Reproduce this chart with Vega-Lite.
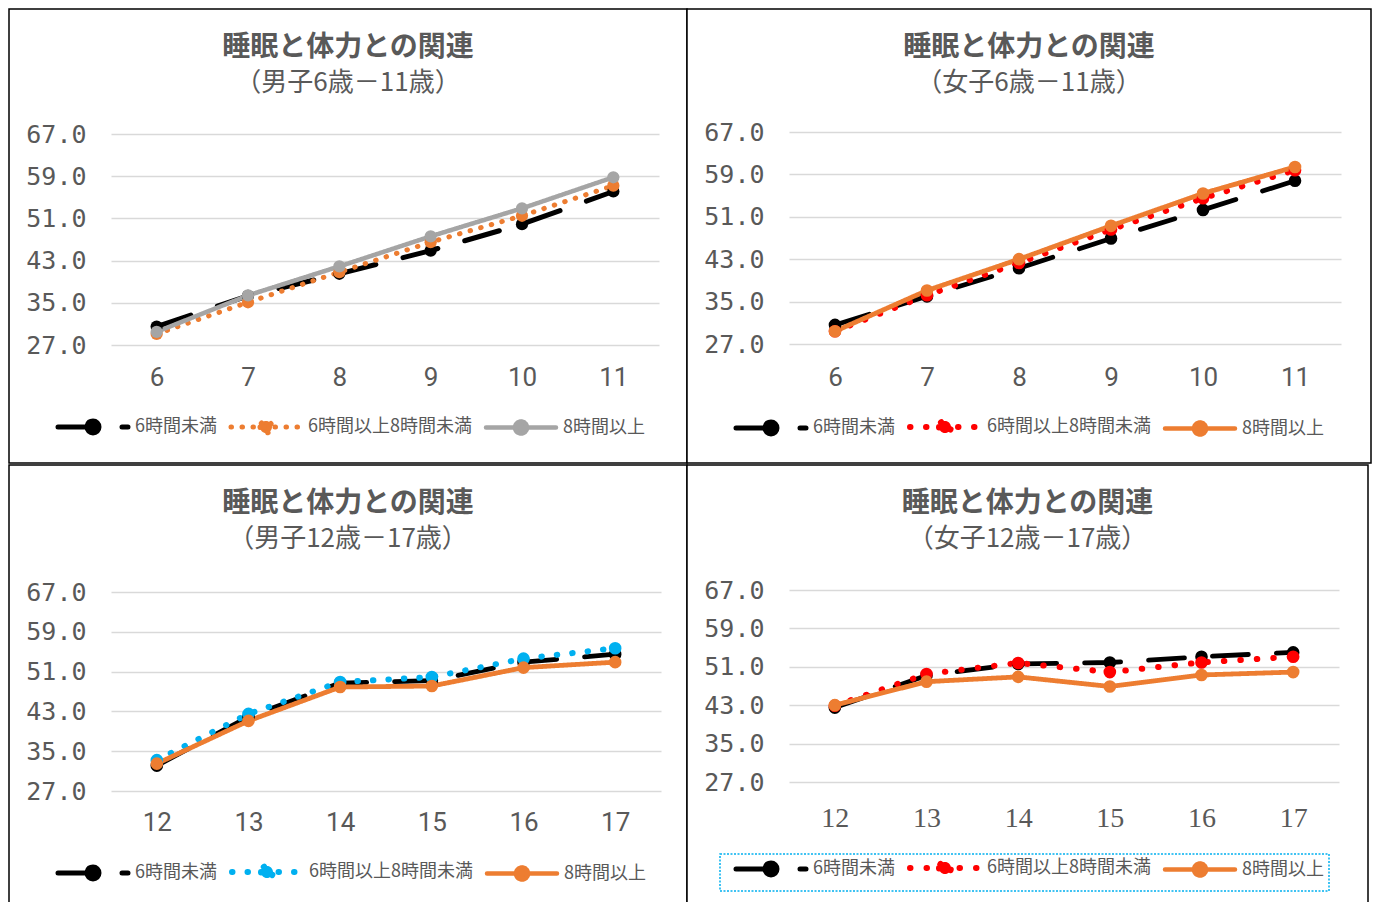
{
  "$schema": "https://vega.github.io/schema/vega-lite/v6.json",
  "padding": {"left": 8, "top": 8, "right": 0, "bottom": 0},
  "background": "#ffffff",
  "datasets": {
    "boys_6_11": [
      {"age": 6, "series": "6時間未満", "value": 30.5},
      {"age": 7, "series": "6時間未満", "value": 36.3},
      {"age": 8, "series": "6時間未満", "value": 40.5},
      {"age": 9, "series": "6時間未満", "value": 44.9},
      {"age": 10, "series": "6時間未満", "value": 49.9},
      {"age": 11, "series": "6時間未満", "value": 56.1},
      {"age": 6, "series": "6時間以上8時間未満", "value": 29.1},
      {"age": 7, "series": "6時間以上8時間未満", "value": 35.1},
      {"age": 8, "series": "6時間以上8時間未満", "value": 40.8},
      {"age": 9, "series": "6時間以上8時間未満", "value": 46.5},
      {"age": 10, "series": "6時間以上8時間未満", "value": 51.5},
      {"age": 11, "series": "6時間以上8時間未満", "value": 57.2},
      {"age": 6, "series": "8時間以上", "value": 29.5},
      {"age": 7, "series": "8時間以上", "value": 36.4},
      {"age": 8, "series": "8時間以上", "value": 41.9},
      {"age": 9, "series": "8時間以上", "value": 47.6},
      {"age": 10, "series": "8時間以上", "value": 52.9},
      {"age": 11, "series": "8時間以上", "value": 58.8}
    ],
    "girls_6_11": [
      {"age": 6, "series": "6時間未満", "value": 30.6},
      {"age": 7, "series": "6時間未満", "value": 36.0},
      {"age": 8, "series": "6時間未満", "value": 41.3},
      {"age": 9, "series": "6時間未満", "value": 46.9},
      {"age": 10, "series": "6時間未満", "value": 52.3},
      {"age": 11, "series": "6時間未満", "value": 57.8},
      {"age": 6, "series": "6時間以上8時間未満", "value": 29.4},
      {"age": 7, "series": "6時間以上8時間未満", "value": 36.2},
      {"age": 8, "series": "6時間以上8時間未満", "value": 42.3},
      {"age": 9, "series": "6時間以上8時間未満", "value": 48.6},
      {"age": 10, "series": "6時間以上8時間未満", "value": 54.5},
      {"age": 11, "series": "6時間以上8時間未満", "value": 59.8},
      {"age": 6, "series": "8時間以上", "value": 29.4},
      {"age": 7, "series": "8時間以上", "value": 37.1},
      {"age": 8, "series": "8時間以上", "value": 43.0},
      {"age": 9, "series": "8時間以上", "value": 49.3},
      {"age": 10, "series": "8時間以上", "value": 55.4},
      {"age": 11, "series": "8時間以上", "value": 60.4}
    ],
    "boys_12_17": [
      {"age": 12, "series": "6時間未満", "value": 32.1},
      {"age": 13, "series": "6時間未満", "value": 41.9},
      {"age": 14, "series": "6時間未満", "value": 48.7},
      {"age": 15, "series": "6時間未満", "value": 49.2},
      {"age": 16, "series": "6時間未満", "value": 52.9},
      {"age": 17, "series": "6時間未満", "value": 54.5},
      {"age": 12, "series": "6時間以上8時間未満", "value": 33.2},
      {"age": 13, "series": "6時間以上8時間未満", "value": 42.5},
      {"age": 14, "series": "6時間以上8時間未満", "value": 48.9},
      {"age": 15, "series": "6時間以上8時間未満", "value": 49.9},
      {"age": 16, "series": "6時間以上8時間未満", "value": 53.6},
      {"age": 17, "series": "6時間以上8時間未満", "value": 55.7},
      {"age": 12, "series": "8時間以上", "value": 32.5},
      {"age": 13, "series": "8時間以上", "value": 41.1},
      {"age": 14, "series": "8時間以上", "value": 47.9},
      {"age": 15, "series": "8時間以上", "value": 48.1},
      {"age": 16, "series": "8時間以上", "value": 51.8},
      {"age": 17, "series": "8時間以上", "value": 52.9}
    ],
    "girls_12_17": [
      {"age": 12, "series": "6時間未満", "value": 42.5},
      {"age": 13, "series": "6時間未満", "value": 49.2},
      {"age": 14, "series": "6時間未満", "value": 51.6},
      {"age": 15, "series": "6時間未満", "value": 51.9},
      {"age": 16, "series": "6時間未満", "value": 53.1},
      {"age": 17, "series": "6時間未満", "value": 54.0},
      {"age": 12, "series": "6時間以上8時間未満", "value": 42.9},
      {"age": 13, "series": "6時間以上8時間未満", "value": 49.5},
      {"age": 14, "series": "6時間以上8時間未満", "value": 51.8},
      {"age": 15, "series": "6時間以上8時間未満", "value": 49.9},
      {"age": 16, "series": "6時間以上8時間未満", "value": 51.9},
      {"age": 17, "series": "6時間以上8時間未満", "value": 53.1},
      {"age": 12, "series": "8時間以上", "value": 43.0},
      {"age": 13, "series": "8時間以上", "value": 47.9},
      {"age": 14, "series": "8時間以上", "value": 48.9},
      {"age": 15, "series": "8時間以上", "value": 46.9},
      {"age": 16, "series": "8時間以上", "value": 49.3},
      {"age": 17, "series": "8時間以上", "value": 49.9}
    ]
  },
  "spacing": 0,
  "resolve": {
    "scale": {"x": "independent", "y": "independent", "color": "independent", "strokeDash": "independent"},
    "legend": {"color": "independent"}
  },
  "vconcat": [
    {
      "spacing": 0,
      "bounds": "flush",
      "resolve": {
        "scale": {"x": "independent", "y": "independent", "color": "independent", "strokeDash": "independent"},
        "legend": {"color": "independent"}
      },
      "hconcat": [
        {
          "width": 678,
          "height": 454,
          "title": {"text": "睡眠と体力との関連", "subtitle": "（男子6歳－11歳）"},
          "data": {"name": "boys_6_11"},
          "encoding": {
            "x": {"field": "age", "type": "ordinal", "scale": {"type": "point", "range": [102, 650], "padding": 0.5}, "axis": {"title": null, "offset": -107}},
            "y": {"field": "value", "type": "quantitative", "scale": {"domain": [27, 67], "range": [336, 125], "nice": false, "zero": false}, "axis": {"title": null, "values": [27, 35, 43, 51, 59, 67], "format": ".1f"}}
          },
          "layer": [
            {
              "mark": {"type": "line", "strokeCap": "round", "strokeJoin": "round"},
              "encoding": {
                "color": {
                  "field": "series", "type": "nominal",
                  "scale": {"domain": ["6時間未満", "6時間以上8時間未満", "8時間以上"], "range": ["#000000", "#ED7D31", "#A5A5A5"]},
                  "legend": {
                    "legendX": 33, "legendY": 404,
                    "encode": {"symbols": {"update": {
                      "fill": {"signal": "datum.value === '6時間未満' ? '#000000' : datum.value === '8時間以上' ? '#A5A5A5' : '#ED7D31'"},
                      "stroke": {"signal": "datum.value === '6時間未満' ? '#000000' : datum.value === '8時間以上' ? '#A5A5A5' : '#ED7D31'"},
                      "strokeDash": {"signal": "datum.value === '6時間未満' ? [36, 28] : datum.value === '8時間以上' ? [1, 0] : [0.5, 10.5]"},
                      "strokeWidth": {"signal": "datum.value === '8時間以上' ? 4.5 : 5"},
                      "strokeCap": {"value": "round"}
                    }}}
                  }
                },
                "strokeDash": {
                  "field": "series", "type": "nominal", "legend": null,
                  "scale": {"domain": ["6時間未満", "6時間以上8時間未満", "8時間以上"], "range": [[36, 28], [0.5, 10.5], [1, 0]]}
                },
                "strokeWidth": {"condition": {"test": "datum.series === '8時間以上'", "value": 4.5}, "value": 5}
              }
            },
            {
              "mark": {"type": "point", "filled": true, "opacity": 1, "size": 150, "shape": "circle"},
              "encoding": {
                "color": {"field": "series", "type": "nominal", "legend": null}
              }
            }
          ]
        },
        {
          "width": 684,
          "height": 454,
          "title": {"text": "睡眠と体力との関連", "subtitle": "（女子6歳－11歳）"},
          "data": {"name": "girls_6_11"},
          "encoding": {
            "x": {"field": "age", "type": "ordinal", "scale": {"type": "point", "range": [102, 654], "padding": 0.5}, "axis": {"title": null, "offset": -107}},
            "y": {"field": "value", "type": "quantitative", "scale": {"domain": [27, 67], "range": [335, 123], "nice": false, "zero": false}, "axis": {"title": null, "values": [27, 35, 43, 51, 59, 67], "format": ".1f"}}
          },
          "layer": [
            {
              "mark": {"type": "line", "strokeCap": "round", "strokeJoin": "round"},
              "encoding": {
                "color": {
                  "field": "series", "type": "nominal",
                  "scale": {"domain": ["6時間未満", "6時間以上8時間未満", "8時間以上"], "range": ["#000000", "#FF0000", "#ED7D31"]},
                  "legend": {
                    "legendX": 33, "legendY": 404,
                    "encode": {"symbols": {"update": {
                      "fill": {"signal": "datum.value === '6時間未満' ? '#000000' : datum.value === '8時間以上' ? '#ED7D31' : '#FF0000'"},
                      "stroke": {"signal": "datum.value === '6時間未満' ? '#000000' : datum.value === '8時間以上' ? '#ED7D31' : '#FF0000'"},
                      "strokeDash": {"signal": "datum.value === '6時間未満' ? [36, 28] : datum.value === '8時間以上' ? [1, 0] : [0.5, 13]"},
                      "strokeWidth": {"signal": "datum.value === '8時間以上' ? 4.5 : datum.value === '6時間未満' ? 5 : 6"},
                      "strokeCap": {"value": "round"}
                    }}}
                  }
                },
                "strokeDash": {
                  "field": "series", "type": "nominal", "legend": null,
                  "scale": {"domain": ["6時間未満", "6時間以上8時間未満", "8時間以上"], "range": [[36, 28], [0.5, 15.5], [1, 0]]}
                },
                "strokeWidth": {"condition": {"test": "datum.series === '6時間以上8時間未満'", "value": 6}, "value": 4.8}
              }
            },
            {
              "mark": {"type": "point", "filled": true, "opacity": 1, "size": 160, "shape": "circle"},
              "encoding": {
                "color": {"field": "series", "type": "nominal", "legend": null}
              }
            }
          ]
        }
      ]
    },
    {
      "spacing": 0,
      "bounds": "flush",
      "resolve": {
        "scale": {"x": "independent", "y": "independent", "color": "independent", "strokeDash": "independent"},
        "legend": {"color": "independent"}
      },
      "hconcat": [
        {
          "width": 678,
          "height": 438,
          "title": {"text": "睡眠と体力との関連", "subtitle": "（男子12歳－17歳）"},
          "data": {"name": "boys_12_17"},
          "encoding": {
            "x": {"field": "age", "type": "ordinal", "scale": {"type": "point", "range": [102, 652], "padding": 0.5}, "axis": {"title": null, "offset": -102}},
            "y": {"field": "value", "type": "quantitative", "scale": {"domain": [27, 67], "range": [326, 127], "nice": false, "zero": false}, "axis": {"title": null, "values": [27, 35, 43, 51, 59, 67], "format": ".1f"}}
          },
          "layer": [
            {
              "mark": {"type": "line", "strokeCap": "round", "strokeJoin": "round"},
              "encoding": {
                "color": {
                  "field": "series", "type": "nominal",
                  "scale": {"domain": ["6時間未満", "6時間以上8時間未満", "8時間以上"], "range": ["#000000", "#00B0F0", "#ED7D31"]},
                  "legend": {
                    "legendX": 33, "legendY": 393,
                    "encode": {"symbols": {"update": {
                      "fill": {"signal": "datum.value === '6時間未満' ? '#000000' : datum.value === '8時間以上' ? '#ED7D31' : '#00B0F0'"},
                      "stroke": {"signal": "datum.value === '6時間未満' ? '#000000' : datum.value === '8時間以上' ? '#ED7D31' : '#00B0F0'"},
                      "strokeDash": {"signal": "datum.value === '6時間未満' ? [36, 28] : datum.value === '8時間以上' ? [1, 0] : [0.5, 13]"},
                      "strokeWidth": {"signal": "datum.value === '8時間以上' ? 4.5 : datum.value === '6時間未満' ? 5 : 6"},
                      "strokeCap": {"value": "round"}
                    }}}
                  }
                },
                "strokeDash": {
                  "field": "series", "type": "nominal", "legend": null,
                  "scale": {"domain": ["6時間未満", "6時間以上8時間未満", "8時間以上"], "range": [[36, 28], [0.5, 15], [1, 0]]}
                },
                "strokeWidth": {"condition": {"test": "datum.series === '6時間以上8時間未満'", "value": 6}, "value": 4.8}
              }
            },
            {
              "mark": {"type": "point", "filled": true, "opacity": 1, "size": 160, "shape": "circle"},
              "encoding": {
                "color": {"field": "series", "type": "nominal", "legend": null}
              }
            }
          ]
        },
        {
          "width": 681,
          "height": 438,
          "title": {"text": "睡眠と体力との関連", "subtitle": "（女子12歳－17歳）"},
          "data": {"name": "girls_12_17"},
          "encoding": {
            "x": {"field": "age", "type": "ordinal", "scale": {"type": "point", "range": [102, 652], "padding": 0.5}, "axis": {"title": null, "offset": -107, "labelFont": "Liberation Serif", "labelFontSize": 28}},
            "y": {"field": "value", "type": "quantitative", "scale": {"domain": [27, 67], "range": [317, 125], "nice": false, "zero": false}, "axis": {"title": null, "values": [27, 35, 43, 51, 59, 67], "format": ".1f"}}
          },
          "layer": [
            {
              "mark": {"type": "line", "strokeCap": "round", "strokeJoin": "round"},
              "encoding": {
                "color": {
                  "field": "series", "type": "nominal",
                  "scale": {"domain": ["6時間未満", "6時間以上8時間未満", "8時間以上"], "range": ["#000000", "#FF0000", "#ED7D31"]},
                  "legend": {
                    "legendX": 33, "legendY": 389,
                    "encode": {
                      "legend": {"update": {"stroke": {"value": "#00B0F0"}, "strokeDash": {"value": [2, 1.5]}, "strokeWidth": {"value": 1.5}}},
                      "symbols": {"update": {
                        "fill": {"signal": "datum.value === '6時間未満' ? '#000000' : datum.value === '8時間以上' ? '#ED7D31' : '#FF0000'"},
                        "stroke": {"signal": "datum.value === '6時間未満' ? '#000000' : datum.value === '8時間以上' ? '#ED7D31' : '#FF0000'"},
                        "strokeDash": {"signal": "datum.value === '6時間未満' ? [36, 28] : datum.value === '8時間以上' ? [1, 0] : [0.5, 13]"},
                        "strokeWidth": {"signal": "datum.value === '8時間以上' ? 4.5 : datum.value === '6時間未満' ? 5 : 6"},
                        "strokeCap": {"value": "round"}
                      }}
                    }
                  }
                },
                "strokeDash": {
                  "field": "series", "type": "nominal", "legend": null,
                  "scale": {"domain": ["6時間未満", "6時間以上8時間未満", "8時間以上"], "range": [[36, 28], [0.5, 16], [1, 0]]}
                },
                "strokeWidth": {"condition": {"test": "datum.series === '6時間以上8時間未満'", "value": 6}, "value": 4.8}
              }
            },
            {
              "mark": {"type": "point", "filled": true, "opacity": 1, "size": 160, "shape": "circle"},
              "encoding": {
                "color": {"field": "series", "type": "nominal", "legend": null}
              }
            }
          ]
        }
      ]
    }
  ],
  "config": {
    "view": {"stroke": "#000000", "strokeWidth": 1.5, "fill": "#ffffff"},
    "font": "Noto Sans CJK JP",
    "title": {
      "anchor": "middle",
      "frame": "group",
      "orient": "top",
      "offset": -87,
      "font": "Noto Sans CJK JP",
      "fontSize": 28,
      "fontWeight": "bold",
      "color": "#595959",
      "subtitleFont": "Noto Sans CJK JP",
      "subtitleFontSize": 26,
      "subtitleColor": "#595959",
      "subtitlePadding": 8
    },
    "axis": {"domain": false, "ticks": false, "labelColor": "#595959"},
    "axisX": {"grid": false, "labelAngle": 0, "labelFont": "Roboto", "labelFontSize": 26, "labelPadding": 8},
    "axisY": {"grid": true, "gridColor": "#D9D9D9", "gridWidth": 1.5, "labelFont": "DejaVu Sans Mono", "labelFontSize": 25, "labelPadding": -77},
    "legend": {
      "orient": "none",
      "direction": "horizontal",
      "columns": 3,
      "title": null,
      "padding": 5,
      "symbolType": "M-7,0L7,0M-1.2,0A1.2,1.2,0,1,0,1.2,0A1.2,1.2,0,1,0,-1.2,0Z",
      "symbolSize": 100,
      "symbolOffset": 37,
      "symbolStrokeWidth": 4,
      "labelOffset": 33,
      "labelLimit": 320,
      "columnPadding": 3,
      "labelFont": "Noto Sans CJK JP",
      "labelFontSize": 18,
      "labelColor": "#595959"
    }
  }
}
